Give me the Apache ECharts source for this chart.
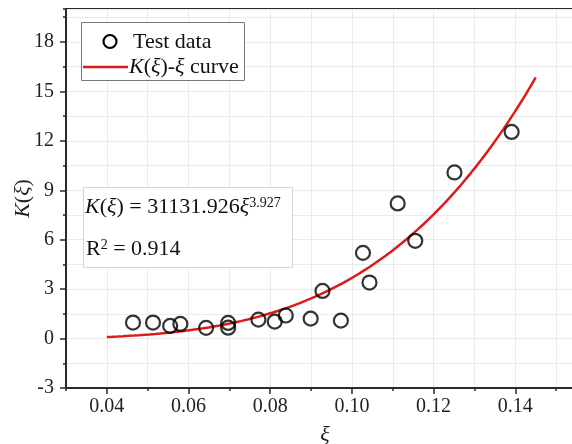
<!DOCTYPE html>
<html>
<head>
<meta charset="utf-8">
<script src="https://cdn.jsdelivr.net/npm/echarts@6/dist/echarts.min.js"></script>
<style>
  html, body { margin: 0; padding: 0; background: #fff; }
  #chart { width: 572px; height: 444px; }
</style>
</head>
<body>
<div id="chart"></div>
<script>
// Measured test points: damage variable xi and K(xi)
const xiValues = [0.0464, 0.0513, 0.0555, 0.0580, 0.0643, 0.0697, 0.0697, 0.0771, 0.0811, 0.0838,
                  0.0899, 0.0928, 0.0973, 0.1027, 0.1043, 0.1112, 0.1155, 0.1251, 0.1391];
const kValues  = [0.97, 0.97, 0.77, 0.89, 0.65, 0.95, 0.66, 1.15, 1.03, 1.40,
                  1.21, 2.89, 1.09, 5.20, 3.40, 8.20, 5.93, 10.08, 12.54];

// Fitted power law K = a * xi^b
const fitCoef = 31131.926;
const fitExp = 3.927;
const fitRange = [0.04, 0.145];
const rSquared = 0.914;

// Axis ticks
const xMajorTicks = [0.04, 0.06, 0.08, 0.10, 0.12, 0.14];
const yMajorTicks = [-3, 0, 3, 6, 9, 12, 15, 18];

const SERIF = '"Liberation Serif", "Times New Roman", serif';
const AXIS_COLOR = '#2a2a2a';

const testPoints = xiValues.map((x, i) => [x, kValues[i]]);

// Evaluate the fitted curve along its range
const curveSteps = 80;
const curvePoints = [];
for (let i = 0; i <= curveSteps; i++) {
  const x = fitRange[0] + (fitRange[1] - fitRange[0]) * i / curveSteps;
  curvePoints.push([x, fitCoef * Math.pow(x, fitExp)]);
}

const gridBox = { left: 66, right: -25, top: 9, bottom: 56, containLabel: false, outerBoundsMode: 'none' };
const xRange = { min: 0.03, max: 0.16 };
const yRange = { min: -3, max: 20 };

const italic = { fontStyle: 'italic', fontFamily: SERIF, fontSize: 22, fill: '#111' };
const sup = { fontFamily: SERIF, fontSize: 14, verticalAlign: 'top', fill: '#111' };

const chart = echarts.init(document.getElementById('chart'), null, { renderer: 'canvas' });

chart.setOption({
  backgroundColor: '#fff',
  animation: false,
  grid: [
    Object.assign({ show: true, borderColor: AXIS_COLOR, borderWidth: 2, backgroundColor: 'transparent' }, gridBox),
    Object.assign({}, gridBox)
  ],
  xAxis: [
    {
      type: 'value', gridIndex: 0, position: 'bottom',
      min: xRange.min, max: xRange.max, interval: 0.01,
      axisLine: { show: true, onZero: false, lineStyle: { color: AXIS_COLOR, width: 2 } },
      axisTick: { show: true, inside: false, length: 6, lineStyle: { color: AXIS_COLOR, width: 1.5 }, customValues: xMajorTicks },
      axisLabel: { show: true, margin: 9, customValues: xMajorTicks, formatter: v => v.toFixed(2),
                   fontFamily: SERIF, fontSize: 20, color: '#222' },
      splitLine: { show: false },
      name: 'ξ', nameLocation: 'middle', nameGap: 36, nameMoveOverlap: false,
      nameTextStyle: { fontFamily: SERIF, fontStyle: 'italic', fontSize: 22, color: '#222', padding: [0, 13, 0, 0] }
    },
    {
      type: 'value', gridIndex: 1, position: 'bottom',
      min: xRange.min, max: xRange.max, interval: 0.01,
      axisLine: { show: false, onZero: false },
      axisTick: { show: true, inside: false, length: 3, lineStyle: { color: AXIS_COLOR, width: 1.5 } },
      axisLabel: { show: false },
      splitLine: { show: true, lineStyle: { color: '#ebebeb', width: 1 } }
    }
  ],
  yAxis: [
    {
      type: 'value', gridIndex: 0, position: 'left',
      min: yRange.min, max: yRange.max, interval: 3,
      axisLine: { show: true, onZero: false, lineStyle: { color: AXIS_COLOR, width: 2 } },
      axisTick: { show: true, inside: false, length: 6, lineStyle: { color: AXIS_COLOR, width: 1.5 }, customValues: yMajorTicks },
      axisLabel: { show: true, margin: 12, customValues: yMajorTicks,
                   fontFamily: SERIF, fontSize: 20, color: '#222' },
      splitLine: { show: false },
      name: '{i|K}({i|ξ})', nameLocation: 'middle', nameGap: 32, nameRotate: 90, nameMoveOverlap: false,
      nameTextStyle: { fontFamily: SERIF, fontSize: 22, color: '#222',
                       rich: { i: { fontStyle: 'italic', fontFamily: SERIF, fontSize: 22, color: '#222' } } }
    },
    {
      type: 'value', gridIndex: 1, position: 'left',
      min: yRange.min, max: yRange.max, interval: 1.5,
      axisLine: { show: false, onZero: false },
      axisTick: { show: true, inside: false, length: 3, lineStyle: { color: AXIS_COLOR, width: 1.5 } },
      axisLabel: { show: false },
      splitLine: { show: true, lineStyle: { color: '#ebebeb', width: 1 } }
    }
  ],
  series: [
    {
      name: 'K(ξ)-ξ curve', type: 'line', xAxisIndex: 0, yAxisIndex: 0,
      data: curvePoints, showSymbol: false, symbol: 'none', smooth: false,
      lineStyle: { color: '#dd1a1a', width: 2.5 }, z: 3
    },
    {
      name: 'Test data', type: 'scatter', xAxisIndex: 0, yAxisIndex: 0,
      data: testPoints, symbol: 'circle', symbolSize: 14,
      itemStyle: { color: 'rgba(0,0,0,0)', borderColor: '#000', borderWidth: 2.2 }, z: 4
    }
  ],
  graphic: [
    // legend box
    { type: 'rect', z: 100, shape: { x: 81.5, y: 22.5, width: 163, height: 58 },
      style: { fill: '#fff', stroke: '#7a7a7a', lineWidth: 1 } },
    { type: 'circle', z: 101, shape: { cx: 110, cy: 41.5, r: 6.5 },
      style: { fill: 'none', stroke: '#000', lineWidth: 2.2 } },
    { type: 'text', z: 101, x: 133, y: 42,
      style: { text: 'Test data', fontFamily: SERIF, fontSize: 22, fill: '#111', verticalAlign: 'middle' } },
    { type: 'line', z: 101, shape: { x1: 83, y1: 67, x2: 128, y2: 67 },
      style: { stroke: '#dd1a1a', lineWidth: 2.5 } },
    { type: 'text', z: 101, x: 129, y: 67,
      style: { text: '{i|K}({i|ξ})-{i|ξ} curve', fontFamily: SERIF, fontSize: 22, fill: '#111',
               verticalAlign: 'middle', rich: { i: italic } } },
    // fit equation box
    { type: 'rect', z: 100, shape: { x: 83.5, y: 187.5, width: 209, height: 80 },
      style: { fill: '#fff', stroke: '#d4d4d4', lineWidth: 1 } },
    { type: 'text', z: 101, x: 85, y: 207,
      style: { text: '{i|K}({i|ξ}) = ' + fitCoef.toFixed(3) + '{i|ξ}{s|' + fitExp.toFixed(3) + '}',
               fontFamily: SERIF, fontSize: 22, fill: '#111', verticalAlign: 'middle',
               rich: { i: italic, s: sup } } },
    { type: 'text', z: 101, x: 86, y: 249,
      style: { text: 'R{s|2} = ' + rSquared.toFixed(3),
               fontFamily: SERIF, fontSize: 22, fill: '#111', verticalAlign: 'middle',
               rich: { s: sup } } }
  ]
});
</script>
</body>
</html>
